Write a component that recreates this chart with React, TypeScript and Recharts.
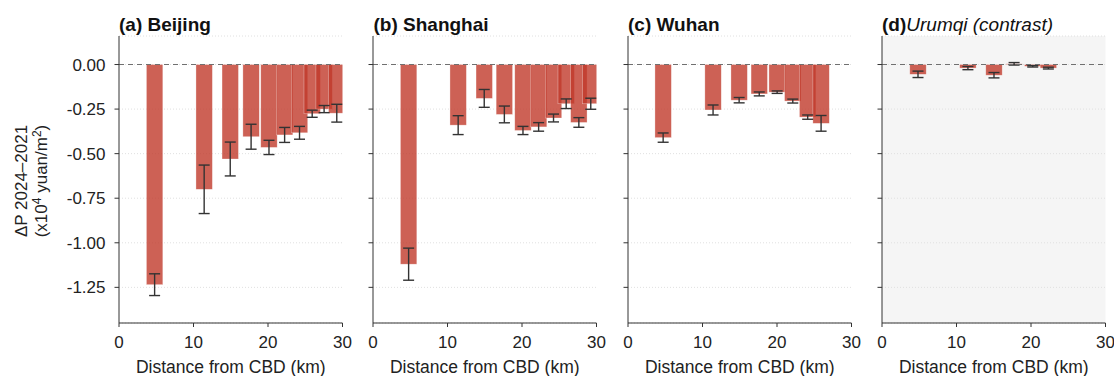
import React from 'react';
import {
  ComposedChart,
  Bar,
  ErrorBar,
  XAxis,
  YAxis,
  CartesianGrid,
  ReferenceLine,
} from 'recharts';

// axis ticks
const distanceTicks = [0, 10, 20, 30];
const deltaTicks = [0, -0.25, -0.5, -0.75, -1, -1.25];

// (a) Beijing
const beijingKm = [4.75, 11.4, 14.9, 17.7, 20.1, 22.2, 24.2, 25.9, 27.5, 29.2];
const beijingDelta = [-1.235, -0.7, -0.53, -0.405, -0.465, -0.395, -0.383, -0.276, -0.25, -0.273];
const beijingErr = [0.061, 0.136, 0.095, 0.07, 0.04, 0.042, 0.036, 0.02, 0.02, 0.05];

// (b) Shanghai
const shanghaiKm = [4.75, 11.4, 14.9, 17.6, 20.1, 22.2, 24.2, 25.9, 27.6, 29.2];
const shanghaiDelta = [-1.12, -0.34, -0.19, -0.28, -0.37, -0.35, -0.3, -0.22, -0.325, -0.22];
const shanghaiErr = [0.09, 0.053, 0.05, 0.047, 0.023, 0.024, 0.022, 0.027, 0.027, 0.031];

// (c) Wuhan
const wuhanKm = [4.7, 11.4, 14.9, 17.6, 20.0, 22.1, 24.1, 25.9];
const wuhanDelta = [-0.41, -0.255, -0.2, -0.165, -0.155, -0.205, -0.295, -0.33];
const wuhanErr = [0.026, 0.028, 0.015, 0.011, 0.007, 0.011, 0.012, 0.044];

// (d) Urumqi
const urumqiKm = [4.8, 11.5, 15.0, 17.7, 20.2, 22.3];
const urumqiDelta = [-0.055, -0.02, -0.06, 0.004, -0.01, -0.02];
const urumqiErr = [0.018, 0.009, 0.015, 0.007, 0.004, 0.005];

const FONT = '"Liberation Sans", Arial, Helvetica, sans-serif';
const BAR_RED = '#c0392b';
const AXIS_W = 60;
const PLOT_W = 223.5;
const RIGHT = 10;
const CHART_W = AXIS_W + PLOT_W + RIGHT;
const CHART_H = 376;

const toRows = (km: number[], delta: number[], err: number[]) =>
  km.map((d, i) => ({ km: d, delta: delta[i], err: err[i] }));

const panels = [
  { tag: '(a)', name: ' Beijing', italic: false, left: 118.5, rows: toRows(beijingKm, beijingDelta, beijingErr), showY: true, shaded: false },
  { tag: '(b)', name: ' Shanghai', italic: false, left: 373, rows: toRows(shanghaiKm, shanghaiDelta, shanghaiErr), showY: false, shaded: false },
  { tag: '(c)', name: ' Wuhan', italic: false, left: 627.5, rows: toRows(wuhanKm, wuhanDelta, wuhanErr), showY: false, shaded: false },
  { tag: '(d)', name: 'Urumqi (contrast)', italic: true, left: 881.5, rows: toRows(urumqiKm, urumqiDelta, urumqiErr), showY: false, shaded: true },
];

// fixed-width bar centred on the distance value (bars overlap like the original)
function RingBar(props: any) {
  const { x, y, width, height } = props;
  if (x == null || y == null) return null;
  const cx = x + width / 2;
  const top = Math.min(y, y + height);
  return (
    <rect
      x={cx - 8.2}
      y={top}
      width={16.4}
      height={Math.abs(height)}
      fill={BAR_RED}
      fillOpacity={0.8}
      stroke="#ffffff"
      strokeOpacity={0.5}
      strokeWidth={0.6}
    />
  );
}

const fmtDelta = (v: number) => v.toFixed(2);
const blank = () => '';

export default function App() {
  return (
    <div style={{ position: 'absolute', left: 0, top: 0, width: 1114, height: 376, fontFamily: FONT, background: '#fff', overflow: 'hidden' }}>
      {panels.map((p) => (
        <div key={p.tag} style={{ position: 'absolute', left: p.left - AXIS_W, top: 0 }}>
          <ComposedChart
            width={CHART_W}
            height={CHART_H}
            data={p.rows}
            margin={{ top: 36, right: RIGHT, bottom: 23, left: 0 }}
          >
            <CartesianGrid
              vertical={false}
              stroke="#e0e0e0"
              strokeDasharray="1 2"
              fill={p.shaded ? '#f5f5f5' : 'none'}
            />
            <XAxis
              type="number"
              dataKey="km"
              domain={[0, 30]}
              ticks={distanceTicks}
              allowDataOverflow
              height={30}
              tickSize={4}
              tickMargin={9}
              stroke="#333"
              tick={{ fill: '#222', fontSize: 17 }}
              label={{ value: 'Distance from CBD (km)', position: 'bottom', offset: 8, fill: '#222', fontSize: 17.5 }}
            />
            <YAxis
              type="number"
              domain={[-1.45, 0.16]}
              ticks={deltaTicks}
              allowDataOverflow
              width={AXIS_W}
              tickSize={4.5}
              tickMargin={9}
              stroke="#333"
              tick={{ fill: '#222', fontSize: 17 }}
              tickFormatter={p.showY ? fmtDelta : blank}
            />
            <Bar dataKey="delta" shape={RingBar} isAnimationActive={false}>
              <ErrorBar dataKey="err" width={5.5} stroke="#333" strokeWidth={1.4} direction="y" isAnimationActive={false} />
            </Bar>
            <ReferenceLine y={0} stroke="#707070" strokeDasharray="5 4" strokeWidth={1.1} />
          </ComposedChart>
        </div>
      ))}
      <svg width={1114} height={376} style={{ position: 'absolute', left: 0, top: 0, pointerEvents: 'none' }}>
        {panels.map((p) => (
          <text key={p.tag} x={p.left + 0.5} y={30.5} fontSize={19} fill="#111">
            <tspan fontWeight="bold">{p.tag}</tspan>
            <tspan fontStyle={p.italic ? 'italic' : 'normal'} fontWeight={p.italic ? 'normal' : 'bold'}>
              {p.name}
            </tspan>
          </text>
        ))}
        <text transform="translate(27,181) rotate(-90)" textAnchor="middle" fontSize={17} fill="#222">
          ΔP 2024–2021
        </text>
        <text transform="translate(47,181) rotate(-90)" textAnchor="middle" fontSize={17} fill="#222">
          (x10<tspan dy={-6} fontSize={12}>4</tspan>
          <tspan dy={6}> yuan/m</tspan>
          <tspan dy={-6} fontSize={12}>2</tspan>
          <tspan dy={6}>)</tspan>
        </text>
      </svg>
    </div>
  );
}
